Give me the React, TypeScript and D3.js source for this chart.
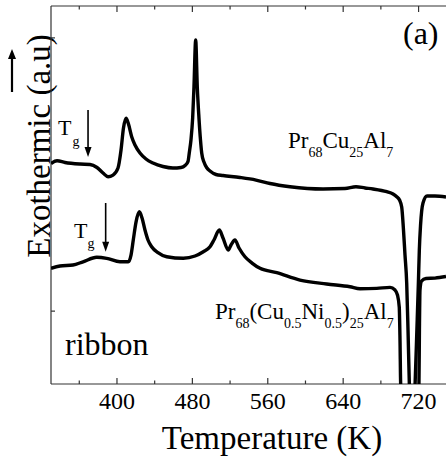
import React from 'react';
import * as d3 from 'd3';

const W = 446;
const H = 462;

// X axis ticks (Temperature, K)
const xMajorTicks = [400, 480, 560, 640, 720];
const xMinorTicks = [360, 440, 520, 600, 680];
// Y axis ticks (arbitrary units)
const yTicks = [0, 3];

// Pr68Cu25Al7 DSC trace
const cuTemp = [330.0, 336.4, 344.9, 360.8, 371.4, 378.8, 385.2, 390.5, 395.8, 401.1, 404.3, 406.9, 409.6, 412.2, 415.6, 419.1, 424.4, 430.8, 438.2, 448.8, 459.4, 467.9, 472.2, 475.4, 476.7, 478.5, 480.3, 481.7, 483.5, 485.2, 487.0, 488.6, 489.9, 492.3, 495.5, 498.7, 505.1, 512.5, 530.5, 547.5, 562.4, 583.6, 618.6, 641.9, 653.6, 663.2, 671.6, 686.2, 692.9, 696.8, 699.8, 702.1, 704.0, 705.6, 707.4, 708.8, 710.2, 713.1, 716.3, 718.2, 719.8, 720.8, 722.1, 724.7, 729.0, 737.4, 749.1];
const cuSignal = [1.621, 1.651, 1.632, 1.615, 1.610, 1.577, 1.516, 1.476, 1.494, 1.571, 1.769, 2.010, 2.117, 2.054, 1.915, 1.824, 1.736, 1.670, 1.626, 1.588, 1.571, 1.577, 1.599, 1.645, 1.736, 1.879, 2.120, 2.464, 2.977, 2.464, 2.120, 1.879, 1.736, 1.637, 1.571, 1.538, 1.500, 1.489, 1.467, 1.439, 1.401, 1.366, 1.341, 1.346, 1.366, 1.352, 1.341, 1.311, 1.286, 1.256, 1.220, 1.143, 0.890, 0.616, 0.309, -0.208, -0.800, -1.525, -0.800, -0.208, 0.309, 0.671, 0.945, 1.187, 1.264, 1.264, 1.253];

// Pr68(Cu0.5Ni0.5)25Al7 DSC trace
const niTemp = [330.0, 339.5, 353.3, 364.0, 378.5, 389.1, 403.2, 412.0, 414.9, 417.3, 420.2, 423.7, 426.6, 429.7, 432.9, 436.8, 443.5, 452.8, 470.4, 482.8, 491.6, 498.7, 502.9, 508.6, 512.5, 518.1, 521.0, 525.2, 529.5, 535.8, 543.3, 551.8, 569.5, 594.2, 622.5, 647.2, 657.9, 675.6, 689.7, 695.0, 697.6, 699.5, 700.3, 701.0, 711.1, 720.4, 720.9, 721.5, 723.1, 727.9, 737.4, 749.1];
const niSignal = [0.470, 0.495, 0.506, 0.542, 0.591, 0.580, 0.542, 0.542, 0.616, 0.781, 0.978, 1.091, 1.022, 0.890, 0.781, 0.707, 0.643, 0.597, 0.580, 0.605, 0.652, 0.707, 0.781, 0.890, 0.803, 0.671, 0.726, 0.781, 0.693, 0.597, 0.528, 0.470, 0.422, 0.341, 0.298, 0.268, 0.246, 0.250, 0.261, 0.232, 0.177, 0.045, -0.317, -0.800, -1.854, -0.800, -0.208, 0.232, 0.330, 0.358, 0.363, 0.380];

// Tg arrow annotations: [temperature, top signal, tip signal]
const tgArrows = [
  [369.3, 2.208, 1.692],
  [388.0, 1.187, 0.652],
];

const serif = "Liberation Serif, Times New Roman, Times, serif";

export default function App() {
  const left = 51, top = 6, bottom = 384;
  const x = d3.scaleLinear().domain([330, 750]).range([left, left + 420 * 0.9425]);
  const y = d3.scaleLinear().domain([-0.8, 3.35]).range([bottom, top]);

  const line = d3.line<[number, number]>()
    .x(d => x(d[0]))
    .y(d => y(d[1]))
    .curve(d3.curveMonotoneX);

  const cuPts = cuTemp.map((t, i) => [t, cuSignal[i]] as [number, number]);
  const niPts = niTemp.map((t, i) => [t, niSignal[i]] as [number, number]);

  const axisColor = '#333';
  const right = W + 2;

  return (
    <svg width={W} height={H} style={{ position: 'absolute', left: 0, top: 0, background: '#fff' }}>
      <defs>
        <clipPath id="plotClip">
          <rect x={left} y={top} width={right - left} height={bottom - top} />
        </clipPath>
      </defs>
      <rect x={0} y={0} width={W} height={H} fill="#fff" />

      {/* Y label */}
      <text
        transform={`translate(50,146) rotate(-90)`}
        textAnchor="middle"
        fontFamily={serif}
        fontSize={33}
        fill="#000"
      >Exothermic (a.u)</text>

      {/* up arrow */}
      <line x1={12} x2={12} y1={92} y2={56} stroke="#000" strokeWidth={2.2} />
      <path d="M12,49 L8,59 L16,59 Z" fill="#000" />

      {/* axes */}
      <line x1={left} x2={left} y1={top} y2={bottom} stroke={axisColor} strokeWidth={1.2} />
      <line x1={left} x2={right} y1={bottom} y2={bottom} stroke={axisColor} strokeWidth={1.2} />
      <line x1={left} x2={right} y1={top} y2={top} stroke={axisColor} strokeWidth={1.2} />

      {xMajorTicks.map(t => (
        <g key={'M' + t}>
          <line x1={x(t)} x2={x(t)} y1={bottom} y2={bottom - 6} stroke={axisColor} strokeWidth={1.2} />
          <line x1={x(t)} x2={x(t)} y1={top} y2={top + 6} stroke={axisColor} strokeWidth={1.2} />
          <text x={x(t)} y={409} textAnchor="middle" fontFamily={serif} fontSize={24} fill="#000">{t}</text>
        </g>
      ))}
      {xMinorTicks.map(t => (
        <g key={'m' + t}>
          <line x1={x(t)} x2={x(t)} y1={bottom} y2={bottom - 3.5} stroke={axisColor} strokeWidth={1.2} />
          <line x1={x(t)} x2={x(t)} y1={top} y2={top + 3.5} stroke={axisColor} strokeWidth={1.2} />
        </g>
      ))}
      {yTicks.map(v => (
        <line key={'y' + v} x1={left} x2={left + 4} y1={y(v)} y2={y(v)} stroke={axisColor} strokeWidth={1.2} />
      ))}

      {/* curves */}
      <g clipPath="url(#plotClip)">
        <path d={line(cuPts) || ''} fill="none" stroke="#000" strokeWidth={3.4} strokeLinejoin="round" />
        <path d={line(niPts) || ''} fill="none" stroke="#000" strokeWidth={3.4} strokeLinejoin="round" />
      </g>

      {/* Tg arrows */}
      {tgArrows.map((a, i) => {
        const ax = x(a[0]);
        const y1 = y(a[1]);
        const y2 = y(a[2]);
        return (
          <g key={'tg' + i}>
            <line x1={ax} x2={ax} y1={y1} y2={y2 - 8} stroke="#000" strokeWidth={1.6} />
            <path d={`M${ax},${y2} L${ax - 3.5},${y2 - 10} L${ax + 3.5},${y2 - 10} Z`} fill="#000" />
          </g>
        );
      })}
      <text x={58} y={135} fontFamily={serif} fontSize={22} fill="#000">T<tspan fontSize={14} dy={11} dx={1}>g</tspan></text>
      <text x={74} y={238} fontFamily={serif} fontSize={22} fill="#000">T<tspan fontSize={14} dy={10} dx={0}>g</tspan></text>

      {/* labels */}
      <text x={403} y={44} fontFamily={serif} fontSize={32} fill="#000">(a)</text>
      <text x={288} y={148} fontFamily={serif} fontSize={23} fill="#000">
        Pr<tspan fontSize={14} dy={9}>68</tspan><tspan dy={-9}>Cu</tspan><tspan fontSize={14} dy={9}>25</tspan><tspan dy={-9}>Al</tspan><tspan fontSize={14} dy={9}>7</tspan>
      </text>
      <text x={215} y={319} fontFamily={serif} fontSize={23} fill="#000">
        Pr<tspan fontSize={14} dy={9}>68</tspan><tspan dy={-9}>(Cu</tspan><tspan fontSize={14} dy={9}>0.5</tspan><tspan dy={-9}>Ni</tspan><tspan fontSize={14} dy={9}>0.5</tspan><tspan dy={-9}>)</tspan><tspan fontSize={14} dy={9}>25</tspan><tspan dy={-9}>Al</tspan><tspan fontSize={14} dy={9}>7</tspan>
      </text>
      <text x={65} y={355} fontFamily={serif} fontSize={32} fill="#000">ribbon</text>

      <text x={272} y={449} textAnchor="middle" fontFamily={serif} fontSize={33} fill="#000">Temperature (K)</text>
    </svg>
  );
}
